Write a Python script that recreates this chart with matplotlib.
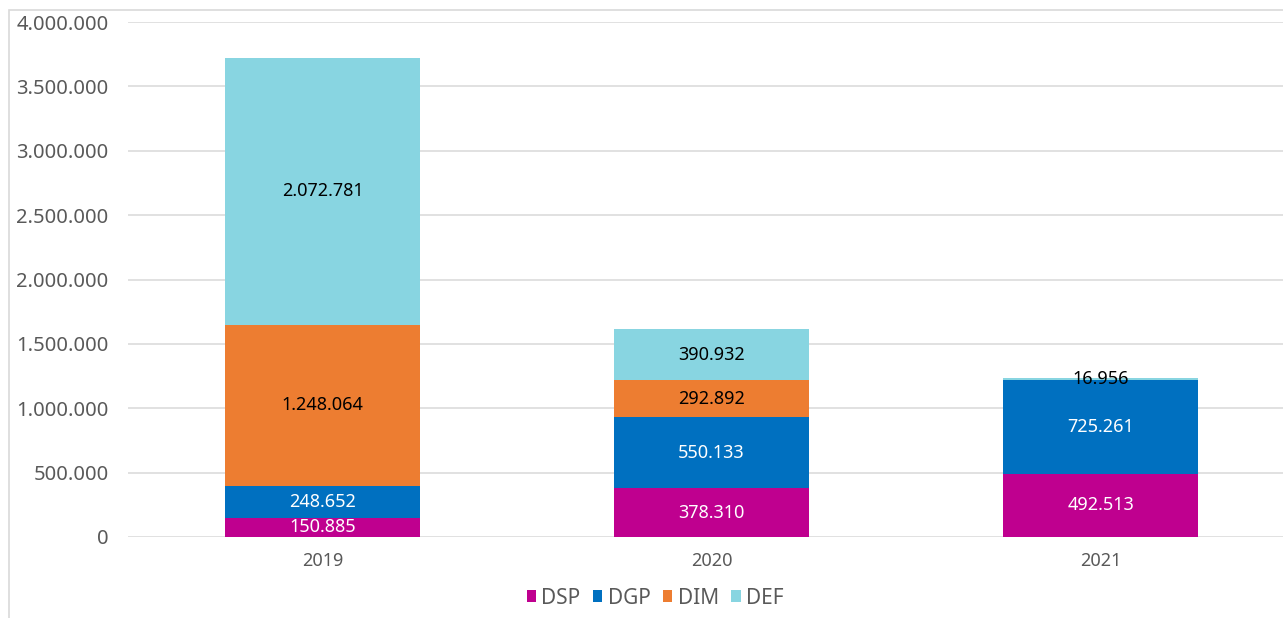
import matplotlib
matplotlib.use("Agg")
import matplotlib.pyplot as plt
from matplotlib.patches import Rectangle

years = ["2019", "2020", "2021"]
series = ["DSP", "DGP", "DIM", "DEF"]
dsp = [150885, 378310, 492513]
dgp = [248652, 550133, 725261]
dim = [1248064, 292892, 0]
def_ = [2072781, 390932, 16956]
values = [dsp, dgp, dim, def_]

colors = ["#BF008F", "#0070C0", "#ED7D31", "#88D5E1"]
label_colors = ["white", "white", "black", "black"]

plt.rcParams["font.family"] = ["Noto Sans", "DejaVu Sans"]

def fmt(v):
    return "{:,.0f}".format(v).replace(",", ".")

fig = plt.figure(figsize=(12.83, 6.18), dpi=100)
# light chart border (clipped like the original)
fig.patches.append(Rectangle((9 / 1283, -0.1), 1.2, (608 / 618) + 0.1,
                             transform=fig.transFigure, fill=False,
                             edgecolor="#d9d9d9", linewidth=1.2))

ax = fig.add_axes([128 / 1283, 81 / 618, 1 - 128 / 1283, (537 - 22) / 618])

x = range(len(years))
bottom = [0, 0, 0]
for name, vals, col, lc in zip(series, values, colors, label_colors):
    bars = ax.bar(x, vals, width=0.5, bottom=bottom, color=col, label=name, zorder=3)
    for i, v in enumerate(vals):
        if v > 0:
            ax.text(i, bottom[i] + v / 2, fmt(v), ha="center", va="center",
                    color=lc, fontsize=13, zorder=4)
    bottom = [b + v for b, v in zip(bottom, vals)]

ax.set_ylim(0, 4000000)
ax.set_xlim(-0.5, 2.469)
ticks = list(range(0, 4000001, 500000))
ax.set_yticks(ticks)
ax.set_yticklabels([fmt(t) for t in ticks])
ax.set_xticks(list(x))
ax.set_xticklabels(years)
ax.tick_params(axis="y", length=0, pad=14, labelsize=14.5, labelcolor="#595959")
ax.tick_params(axis="x", length=0, pad=11, labelsize=13, labelcolor="#595959")
ax.grid(axis="y", color="#d9d9d9", linewidth=1.1, zorder=0)
for s in ax.spines.values():
    s.set_visible(False)

ax.legend(loc="center", bbox_to_anchor=(655 / 1283, 20 / 618),
          bbox_transform=fig.transFigure, ncol=4, frameon=False,
          fontsize=15, labelcolor="#595959", handlelength=0.45, handleheight=0.45,
          handletextpad=0.25, columnspacing=0.6)

fig.savefig("out.png", dpi=100)
